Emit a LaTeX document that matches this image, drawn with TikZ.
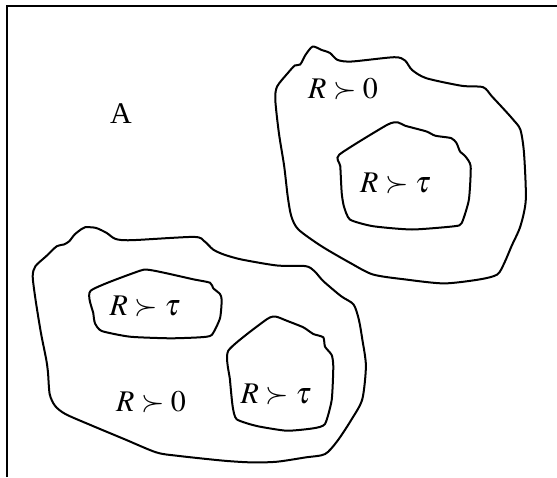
\documentclass[tikz,border=0pt]{standalone}
\usepackage{mathptmx}
\usepackage{fontspec}
\setmainfont{Liberation Serif}
\tikzset {
  % closed outline of a set
  region/.style = {
    draw = black,
    line width = 1pt,
    smooth cycle,
    tension = 0.45
  },
  frame line/.style = {
    draw = black,
    line width = 1.1pt
  },
  set label/.style = {
    anchor = base,
    inner sep = 0,
    font = \fontsize{15}{18}\selectfont
  }
}
\begin{document}
\begin{tikzpicture}[x=0.5pt, y=-0.5pt]
    \useasboundingbox (0,0) rectangle (557,477);

    \draw[frame line] (7,477) -- (7,6) -- (557,6);

    % upper right set
    \draw[region] plot coordinates {
      (312.6,46.6) (321.5,49.9) (330,53) (337.5,59.9) (351.7,61.5)
      (394.3,57.2) (405,60.5) (412,69.9) (426.3,78.2) (461.8,85.8)
      (483.1,87.2) (492,96.5) (504.4,109.8) (513.3,119.8) (520.4,129.7)
      (524,153) (525.8,199.6) (520.4,226.2) (511.5,246.2) (504.4,262.8)
      (497.3,274.5) (479.6,279.4) (444,283.4) (405,279.4) (373,274.5)
      (350,262.8) (321.5,246.2) (298.4,229.5) (291.3,216.2) (287.7,196.3)
      (284.2,166.3) (278.9,133.1) (275.3,99.8) (277.1,86.5) (287.7,73.2)
      (294.8,65.5) (300.2,64.5) (305.5,54.9)
    };
    \draw[region, tension = 0.35] plot coordinates {
      (339.2,154.7) (387.2,124.8) (397.9,122.4) (405,125.7) (426.3,131.4)
      (435.2,135.7) (451.2,138.1) (456.5,143) (460,151.4) (465.4,156.4)
      (470.7,166.3) (468.9,199.6) (461.8,222.9) (454.7,226.2) (412,229.5)
      (373,226.2) (350,219.6) (343.9,206.3) (341.7,193) (340.3,166.3)
    };

    % lower left set
    \draw[region] plot coordinates {
      (85.3,227.2) (95.9,227.9) (106.6,232.9) (115.5,238.9) (131.4,240.2)
      (193.6,236.9) (204.3,241.2) (213.1,249.5) (223.8,254.5) (241.6,259.5)
      (277.1,265.5) (305.5,266.1) (314.4,271.1) (323.3,281.1) (341,296.1)
      (353.5,304.4) (358.8,319.4) (362.3,339.3) (365.9,365.9) (362.3,399.2)
      (351.7,419.2) (337.5,440.8) (325,454.1) (305.5,457.4) (277.1,461.7)
      (252.2,462.4) (223.8,460.7) (177.6,455.8) (156.3,452.4) (124.3,439.1)
      (92.4,425.8) (65.7,414.2) (55.1,405.9) (49.7,394.2) (48,372.6)
      (46.2,359.3) (40.9,332.7) (35.5,299.4) (32.7,276.1) (35.5,266.1)
      (46.2,256.2) (56.8,246.2) (63.9,244.5) (69.3,241.2) (74.6,234.5)
      (81.7,228.9)
    };
    \draw[region, tension = 0.35] plot coordinates {
      (90.7,290.7) (140,270.7) (150,270) (166.7,273.3) (193.3,279.3)
      (210,282.7) (213.3,288.3) (220,294) (221.7,300) (220,318.3)
      (211.7,335) (200,337.3) (170,338.3) (130,336.7) (101.7,331)
      (95,323.3) (93.3,313.3)
    };
    \draw[region, tension = 0.35] plot coordinates {
      (228.3,350.7) (266.7,319.3) (276,316.7) (286.7,320.7) (303.3,327.3)
      (313.3,334) (323.3,337.3) (325,346.7) (331.7,355) (333.3,366.7)
      (331.7,400) (325,424) (313.3,428.3) (286.7,430.7) (256.7,426)
      (236.7,419.3) (232.7,406.7) (230,380)
    };

    \node[set label] (lblA) at (121,123) {A};
    \node[set label] (outerR) at (343,98) {$R\succ 0$};
    \node[set label] (innerR) at (395.5,192) {$R\succ\tau$};
    \node[set label] (leftTau) at (145,315) {$R\succ\tau$};
    \node[set label] (leftZero) at (151,411.7) {$R\succ 0$};
    \node[set label] (rightTau) at (276,403.3) {$R\succ\tau$};
\end{tikzpicture}
\end{document}
